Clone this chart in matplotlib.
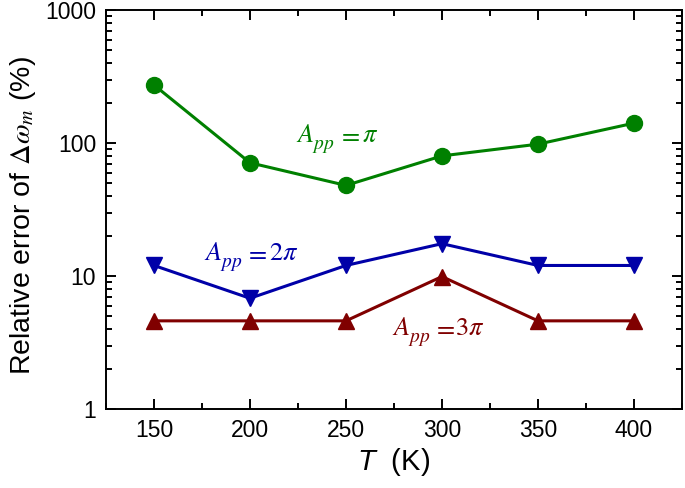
import matplotlib

matplotlib.use("Agg")
import matplotlib.pyplot as plt
from matplotlib.ticker import LogLocator, MultipleLocator, NullFormatter, FixedLocator
from matplotlib.transforms import offset_copy

plt.rcParams["font.family"] = ["Liberation Sans", "DejaVu Sans"]
plt.rcParams["mathtext.fontset"] = "stix"
# "custom" math font is only used for the sans italic T on the x label
plt.rcParams["mathtext.it"] = "Liberation Sans:italic"
plt.rcParams["mathtext.rm"] = "Liberation Sans"

# temperatures (K)
temps = [150, 200, 250, 300, 350, 400]

# relative error of delta omega_m (%)
err_pi = [273, 71, 48, 80, 98, 141]
err_2pi = [12, 6.8, 12, 17.5, 12, 12]
err_3pi = [4.6, 4.6, 4.6, 9.9, 4.6, 4.6]

GREEN, BLUE, RED = "#008000", "#0000a8", "#800000"

fig = plt.figure(figsize=(6.85, 4.88), dpi=100)
ax = fig.add_axes([0.1547, 0.1619, 0.8409, 0.8176])

ax.plot(temps, err_pi, "-o", color=GREEN, lw=2.2, ms=11.5)
ax.plot(temps, err_2pi, "-v", color=BLUE, lw=2.2, ms=12)
ax.plot(temps, err_3pi, "-^", color=RED, lw=2.2, ms=12)

ax.set_yscale("log")
ax.set_xlim(125, 425)
ax.set_ylim(1, 1000)

ax.xaxis.set_major_locator(FixedLocator(temps))
ax.xaxis.set_minor_locator(MultipleLocator(25))
ax.yaxis.set_minor_locator(LogLocator(base=10, subs=range(2, 10), numticks=10))
ax.yaxis.set_minor_formatter(NullFormatter())
ax.set_yticks([1, 10, 100, 1000])
ax.set_yticklabels(["1", "10", "100", "1000"])

ax.tick_params(which="both", direction="in", top=True, right=True,
               labelsize=16.5, width=1.4)
ax.tick_params(which="major", length=7, pad=7)
ax.tick_params(which="minor", length=4)
for s in ax.spines.values():
    s.set_linewidth(1.4)

ax.set_xlabel(r"$T$  (K)", fontsize=21, labelpad=3, math_fontfamily="custom")
ax.set_ylabel(r"Relative error of $\Delta\omega_m$ (%)", fontsize=20.5)
ax.yaxis.set_label_coords(-0.118, 0.485)


def label(x, y, rhs, color, eq_dx=42, rhs_dx=66):
    """A_pp = rhs with a low-set subscript, like the original figure."""
    kw = dict(color=color, ha="left", va="baseline")
    ax.text(x, y, r"$A$", fontsize=19, **kw)
    ax.text(x, y, r"$pp$", fontsize=14,
            transform=offset_copy(ax.transData, fig, 16, -7, units="dots"), **kw)
    ax.text(x, y, r"$=$", fontsize=19,
            transform=offset_copy(ax.transData, fig, eq_dx, 0, units="dots"), **kw)
    ax.text(x, y, rhs, fontsize=19,
            transform=offset_copy(ax.transData, fig, rhs_dx, 0, units="dots"), **kw)


label(224, 102, r"$\pi$", GREEN)
label(176, 13.2, r"$2\pi$", BLUE, eq_dx=41, rhs_dx=65)
label(274, 3.6, r"$3\pi$", RED, eq_dx=41, rhs_dx=63)

fig.savefig("out.png", dpi=100)
